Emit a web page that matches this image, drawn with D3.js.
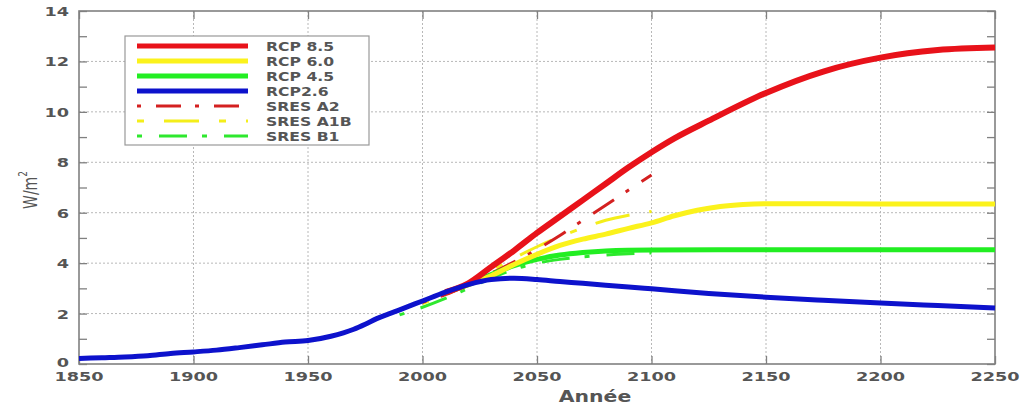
<!DOCTYPE html>
<html><head><meta charset="utf-8">
<script src="https://cdn.jsdelivr.net/npm/d3@7"></script>
<style>body{margin:0;background:#fff}svg{display:block}</style>
</head><body>
<svg id="c" width="1026" height="406"></svg>
<script>
// ---- data ----
const xTicks = [1850,1900,1950,2000,2050,2100,2150,2200,2250];
const yTicks = [0,2,4,6,8,10,12,14];
const seriesNames = ["RCP 8.5","RCP 6.0","RCP 4.5","RCP2.6","SRES A2","SRES A1B","SRES B1"];

const rcp26 = [[1850,0.22],[1860,0.25],[1870,0.28],[1880,0.33],[1890,0.42],[1900,0.48],[1910,0.55],[1920,0.65],[1930,0.76],[1940,0.87],[1950,0.93],[1960,1.1],[1970,1.38],[1975,1.58],[1980,1.8],[1985,1.98],[1990,2.15],[2000,2.5],[2010,2.85],[2020,3.15],[2030,3.35],[2040,3.4],[2050,3.35],[2060,3.27],[2070,3.2],[2080,3.12],[2090,3.05],[2100,2.98],[2125,2.8],[2150,2.65],[2175,2.53],[2200,2.42],[2225,2.32],[2250,2.22]];
const rcp85 = [[2010,2.85],[2020,3.2],[2030,3.85],[2040,4.5],[2050,5.2],[2060,5.85],[2070,6.5],[2080,7.15],[2090,7.8],[2100,8.4],[2110,8.95],[2125,9.65],[2150,10.75],[2175,11.6],[2200,12.15],[2225,12.45],[2250,12.55]];
const rcp60 = [[2010,2.85],[2020,3.15],[2030,3.5],[2040,3.95],[2050,4.35],[2060,4.7],[2070,4.95],[2080,5.15],[2090,5.38],[2100,5.6],[2110,5.88],[2120,6.1],[2130,6.25],[2140,6.33],[2150,6.36],[2200,6.35],[2250,6.35]];
const rcp45 = [[2010,2.85],[2020,3.15],[2030,3.55],[2040,3.9],[2050,4.15],[2060,4.32],[2070,4.42],[2080,4.48],[2100,4.52],[2150,4.53],[2250,4.53]];
const sresA2 = [[2000,2.45],[2010,2.75],[2020,3.15],[2030,3.6],[2040,4.05],[2050,4.55],[2060,5.1],[2070,5.7],[2080,6.3],[2090,6.9],[2100,7.5]];
const sresA1B = [[2000,2.4],[2010,2.75],[2020,3.2],[2030,3.7],[2040,4.2],[2050,4.65],[2060,5.05],[2070,5.4],[2080,5.7],[2090,5.9],[2100,6.05]];
const sresB1 = [[1990,1.95],[2000,2.25],[2010,2.6],[2020,3.0],[2030,3.4],[2040,3.75],[2050,4.0],[2060,4.15],[2070,4.25],[2080,4.32],[2090,4.37],[2100,4.4]];

// ---- layout ----
const L=79, R=995, T=11, B=364;
const STR = 1.36;
const svg = d3.select("#c");
const x = d3.scaleLinear().domain([1850,2250]).range([L,R]);
const y = d3.scaleLinear().domain([0,14]).range([B,T]);
const txtCol = "#555";
const font = "DejaVu Sans";

function stext(px, py, str, size, anchor){
  const g = svg.append("g").attr("transform",`translate(${px},${py}) scale(${STR},1)`);
  g.append("text").text(str).attr("font-family",font).attr("font-weight","bold")
    .attr("font-size",size).attr("fill",txtCol).attr("text-anchor",anchor||"start");
  return g;
}

// grid
const grid = svg.append("g");
grid.selectAll("line.gx").data(xTicks.slice(1,-1)).join("line")
  .attr("x1",d=>x(d)).attr("x2",d=>x(d)).attr("y1",T).attr("y2",B)
  .attr("stroke","#b8b8b8").attr("stroke-dasharray","2,2").attr("stroke-width",1);
grid.selectAll("line.gy").data(yTicks.slice(1,-1)).join("line")
  .attr("y1",d=>y(d)).attr("y2",d=>y(d)).attr("x1",L).attr("x2",R)
  .attr("stroke","#b8b8b8").attr("stroke-dasharray","2,2").attr("stroke-width",1);

// axes via d3 axis (inward ticks)
const axCol = "#808080";
function styleAxis(g){ g.select(".domain").remove(); g.selectAll("text").remove(); g.selectAll("line").attr("stroke",axCol).attr("stroke-width",1.3); }
svg.append("g").attr("transform",`translate(0,${B})`).call(d3.axisBottom(x).tickValues(xTicks).tickSize(-8)).call(styleAxis);
svg.append("g").attr("transform",`translate(0,${T})`).call(d3.axisTop(x).tickValues(xTicks).tickSize(-8)).call(styleAxis);
svg.append("g").attr("transform",`translate(${L},0)`).call(d3.axisLeft(y).tickValues(d3.range(0,15)).tickSize(-8)).call(styleAxis);
svg.append("g").attr("transform",`translate(${R},0)`).call(d3.axisRight(y).tickValues(d3.range(0,15)).tickSize(-8)).call(styleAxis);

// frame
svg.append("rect").attr("x",L).attr("y",T).attr("width",R-L).attr("height",B-T)
  .attr("fill","none").attr("stroke",axCol).attr("stroke-width",1.6);

// tick labels
xTicks.forEach(v=> stext(x(v), 381, String(v), 13, "middle"));
yTicks.forEach(v=> stext(69, v===0 ? y(v)+2.5 : y(v)+5, String(v), 13, "end"));

// axis titles
stext(595, 402, "Année", 15, "middle");
{
  const g = svg.append("g").attr("transform",`translate(37,190) scale(${STR},1) rotate(-90)`);
  const t = g.append("text").attr("font-family",font).attr("font-size",14).attr("fill",txtCol)
    .attr("text-anchor","middle");
  t.append("tspan").text("W/m");
  t.append("tspan").text("2").attr("dy",-7).attr("font-size",9);
}

// lines
const line = d3.line().x(d=>x(d[0])).y(d=>y(d[1])).curve(d3.curveMonotoneX);
const series = [
  {data:sresB1, color:"#2ee82e", w:3, dash:"5,17,28,15"},
  {data:sresA1B, color:"#f4ee1a", w:3, dash:"7,20,35,20"},
  {data:sresA2, color:"#d42020", w:3, dash:"4,15,25,14"},
  {data:rcp45, color:"#22ee22", w:5, dash:null},
  {data:rcp60, color:"#fbf21c", w:5, dash:null},
  {data:rcp85, color:"#e8121a", w:6, dash:null},
  {data:rcp26, color:"#0d12cc", w:5, dash:null}
];
const plot = svg.append("g");
series.forEach(s=>{
  plot.append("path").attr("d",line(s.data)).attr("fill","none").attr("stroke",s.color)
    .attr("stroke-width",s.w).attr("stroke-dasharray",s.dash).attr("stroke-linecap","butt")
    .attr("stroke-linejoin","round");
});

// legend
const legStyles = [
  {color:"#e8121a", w:5, dash:null},
  {color:"#fbf21c", w:5, dash:null},
  {color:"#22ee22", w:5, dash:null},
  {color:"#0d12cc", w:5, dash:null},
  {color:"#d42020", w:3, dash:"4,15,25,14"},
  {color:"#f4ee1a", w:3, dash:"7,20,35,20"},
  {color:"#2ee82e", w:3, dash:"5,17,28,15"}
];
svg.append("rect").attr("x",125).attr("y",36).attr("width",244).attr("height",109)
  .attr("fill","#fff").attr("stroke","#999").attr("stroke-width",1.2);
const ly = d3.scalePoint().domain(seriesNames).range([46,136]);
seriesNames.forEach((n,i)=>{
  const st = legStyles[i];
  svg.append("line").attr("x1",137).attr("x2",248).attr("y1",ly(n)).attr("y2",ly(n))
    .attr("stroke",st.color).attr("stroke-width",st.w).attr("stroke-dasharray",st.dash);
  stext(266, ly(n)+4.5, n, 11.5, "start");
});
</script>
</body></html>
